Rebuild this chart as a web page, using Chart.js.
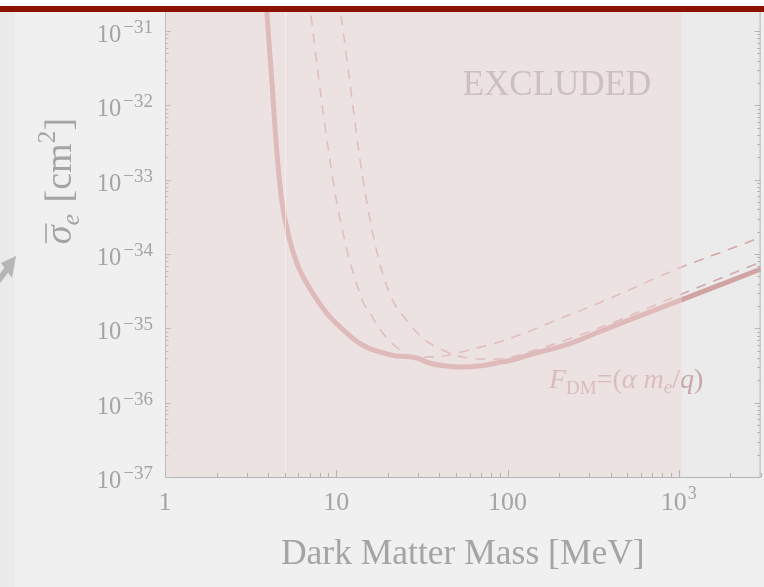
<!DOCTYPE html>
<html>
<head>
<meta charset="utf-8">
<script src="https://cdn.jsdelivr.net/npm/chart.js@4/dist/chart.umd.min.js"></script>
<style>
  html, body { margin: 0; padding: 0; background: #f0f0f0; }
  canvas { display: block; }
</style>
</head>
<body>
<canvas id="chart" width="764" height="587"></canvas>
<script>
// Electron-scattering limits: dark matter mass [MeV] vs. reference cross section [cm^2]
const combinedMass  = [3.81, 3.93, 4.20, 4.49, 4.80, 5.35, 5.95, 6.71, 8.78, 11.5, 14.2, 17.9, 22.4, 27.8, 30.6, 34.9, 43.9, 54.4, 68.3, 85.9, 106, 139, 219, 341, 532, 1025, 2917, 3570];
const combinedSigma = [4.9e-31, 1.8e-31, 2.19e-32, 2.5e-33, 5.3e-34, 1.54e-34, 7.1e-35, 4.07e-35, 1.61e-35, 8.65e-36, 5.97e-36, 4.81e-36, 4.25e-36, 4.11e-36, 3.87e-36, 3.42e-36, 3.11e-36, 3.02e-36, 3.11e-36, 3.42e-36, 3.75e-36, 4.52e-36, 5.97e-36, 8.93e-36, 1.34e-35, 2.40e-35, 6.10e-35, 7.34e-35];

const limitAMass  = [6.68, 7.08, 7.78, 8.66, 10.0, 10.45, 11.95, 13.1, 14.6, 15.6, 17.9, 22.4, 27.5, 32.7, 42.7, 59.8, 89.4, 122, 200, 341, 1040, 2917, 3570];
const limitASigma = [4.86e-31, 1.80e-31, 2.99e-32, 4.66e-33, 5.33e-34, 3.15e-34, 8.3e-35, 4.07e-35, 2.06e-35, 1.66e-35, 9.8e-36, 5.61e-36, 4.25e-36, 4.11e-36, 4.25e-36, 5.12e-36, 6.55e-36, 8.4e-36, 1.34e-35, 2.19e-35, 6.68e-35, 1.64e-34, 2.01e-34];

const limitBMass  = [10.0, 10.6, 11.96, 13.5, 15.0, 16.9, 18.6, 21.3, 25.7, 31.8, 41.6, 54.4, 73.1, 89.4, 139, 341, 1040, 2917, 3570];
const limitBSigma = [4.86e-31, 1.80e-31, 2.19e-32, 2.5e-33, 5.33e-34, 1.32e-34, 5.56e-35, 2.40e-35, 1.29e-35, 7.41e-36, 5.12e-36, 4.11e-36, 3.87e-36, 3.87e-36, 4.95e-36, 1.01e-35, 2.90e-35, 7.57e-35, 9.12e-35];

// axis ranges and tick labels
const massRange  = [1, 3000];
const sigmaRange = [1e-37, 1.803e-31];
const xTickValues = [1, 10, 100, 1000];
const xTickLabels = [['1'], ['10'], ['100'], ['10', '3']];
const yTickExponents = [-37, -36, -35, -34, -33, -32, -31];

// shaded excluded band and its faint inner edge
const excludedMaxMass = 1040;
const innerEdgeMass = 5;

const SERIF = '"Liberation Serif", "Times New Roman", serif';
const TEXT_GREY = '#a4a4a4';

function toPoints(xs, ys) { return xs.map((x, i) => ({ x: x, y: ys[i] })); }

function runsWidth(ctx, runs) {
  let w = 0;
  for (const r of runs) { ctx.font = r.f; w += ctx.measureText(r.t).width + (r.gap || 0); }
  return w;
}
function drawRuns(ctx, runs, x, y, align) {
  const w = runsWidth(ctx, runs);
  let cx = align === 'right' ? x - w : align === 'center' ? x - w / 2 : x;
  ctx.textAlign = 'left';
  ctx.textBaseline = 'alphabetic';
  for (const r of runs) {
    ctx.font = r.f;
    if (r.c) ctx.fillStyle = r.c;
    ctx.fillText(r.t, cx, y + (r.dy || 0));
    cx += ctx.measureText(r.t).width + (r.gap || 0);
  }
  return w;
}

const scene = {
  id: 'scene',
  beforeDraw(chart) {
    const { ctx, chartArea: a } = chart;
    ctx.save();
    ctx.fillStyle = '#f0f0f0';
    ctx.fillRect(0, 0, chart.width, chart.height);
    ctx.fillStyle = '#eaeaea';
    ctx.fillRect(0, 0, 15, chart.height);
    // arrow poking in from the left edge
    ctx.fillStyle = '#b6b6b6';
    ctx.beginPath();
    ctx.moveTo(16, 256); ctx.lineTo(1, 263); ctx.lineTo(12, 278);
    ctx.closePath(); ctx.fill();
    ctx.strokeStyle = '#b6b6b6'; ctx.lineWidth = 6;
    ctx.beginPath(); ctx.moveTo(8, 268); ctx.lineTo(-6, 286); ctx.stroke();
    // plot background
    ctx.fillStyle = '#ecebec';
    ctx.fillRect(a.left, a.top, a.right - a.left, a.bottom - a.top);
    ctx.restore();
  },
  afterDatasetsDraw(chart) {
    const { ctx, chartArea: a, scales: { x: xs } } = chart;
    ctx.save();
    // form factor label
    drawRuns(ctx, [
      { t: 'F', f: `italic 28px ${SERIF}`, c: '#c9a6a6' },
      { t: 'DM', f: `19px ${SERIF}`, dy: 6 },
      { t: '=(', f: `28px ${SERIF}` },
      { t: 'α', f: `italic 28px ${SERIF}` },
      { t: ' m', f: `italic 28px ${SERIF}` },
      { t: 'e', f: `italic 19px ${SERIF}`, dy: 5 },
      { t: '/', f: `28px ${SERIF}` },
      { t: 'q', f: `italic 28px ${SERIF}` },
      { t: ')', f: `28px ${SERIF}` }
    ], 549, 388, 'left');
    // translucent excluded band
    const xe = xs.getPixelForValue(excludedMaxMass);
    ctx.fillStyle = 'rgba(240, 215, 215, 0.45)';
    ctx.fillRect(a.left, a.top, xe - a.left, a.bottom - a.top);
    const x5 = Math.round(xs.getPixelForValue(innerEdgeMass)) + 0.5;
    ctx.strokeStyle = 'rgba(255, 245, 245, 0.55)';
    ctx.lineWidth = 1;
    ctx.beginPath(); ctx.moveTo(x5, a.top); ctx.lineTo(x5, a.bottom); ctx.stroke();
    // EXCLUDED
    ctx.fillStyle = '#cbbfbf';
    ctx.font = `35px ${SERIF}`;
    ctx.textAlign = 'center';
    ctx.textBaseline = 'alphabetic';
    ctx.fillText('EXCLUDED', 557, 95);
    ctx.restore();
  },
  afterDraw(chart) {
    const { ctx, chartArea: a, scales: { x: xs, y: ys } } = chart;
    ctx.save();
    // frame
    ctx.lineWidth = 1;
    ctx.strokeStyle = '#c6baba';
    ctx.beginPath(); ctx.moveTo(a.left + 0.5, a.top - 20); ctx.lineTo(a.left + 0.5, a.bottom); ctx.stroke();
    ctx.strokeStyle = '#b4b4b4';
    ctx.beginPath(); ctx.moveTo(a.left, a.bottom + 0.5); ctx.lineTo(a.right, a.bottom + 0.5); ctx.stroke();
    ctx.beginPath(); ctx.moveTo(a.right - 0.5, a.top - 20); ctx.lineTo(a.right - 0.5, a.bottom); ctx.stroke();

    // y ticks (log decades with minor ticks), both sides, pointing inward
    for (let e = -38; e <= -31; e++) {
      for (let k = 1; k <= 9; k++) {
        const v = k * Math.pow(10, e);
        if (v < sigmaRange[0] * 0.999 || v > sigmaRange[1]) continue;
        const py = Math.round(ys.getPixelForValue(v)) + 0.5;
        const len = k === 1 ? 6 : 3.5;
        ctx.strokeStyle = '#c6baba';
        ctx.beginPath(); ctx.moveTo(a.left, py); ctx.lineTo(a.left + len, py); ctx.stroke();
        ctx.strokeStyle = '#b4b4b4';
        ctx.beginPath(); ctx.moveTo(a.right, py); ctx.lineTo(a.right - len, py); ctx.stroke();
      }
    }
    // x ticks
    ctx.strokeStyle = '#b4b4b4';
    for (let e = 0; e <= 3; e++) {
      for (let k = 1; k <= 9; k++) {
        const v = k * Math.pow(10, e);
        if (v > massRange[1]) continue;
        const px = Math.round(xs.getPixelForValue(v)) + 0.5;
        const len = k === 1 ? 7 : 4;
        ctx.beginPath(); ctx.moveTo(px, a.bottom); ctx.lineTo(px, a.bottom - len); ctx.stroke();
      }
    }

    ctx.fillStyle = TEXT_GREY;
    // y tick labels 10^n
    for (const e of yTickExponents) {
      const py = ys.getPixelForValue(Math.pow(10, e));
      drawRuns(ctx, [
        { t: '10', f: `24.5px ${SERIF}`, gap: 2 },
        { t: '−' + Math.abs(e), f: `19px ${SERIF}`, dy: -9 }
      ], 153, py + 11, 'right');
    }
    // x tick labels
    xTickValues.forEach((v, i) => {
      const px = xs.getPixelForValue(v);
      const parts = xTickLabels[i];
      const runs = [{ t: parts[0], f: `26px ${SERIF}`, gap: parts[1] ? 1 : 0 }];
      if (parts[1]) runs.push({ t: parts[1], f: `18px ${SERIF}`, dy: -11 });
      drawRuns(ctx, runs, px, 510, 'center');
    });

    // x title
    ctx.font = `35.5px ${SERIF}`;
    ctx.textAlign = 'center';
    ctx.fillText('Dark Matter Mass [MeV]', (a.left + a.right) / 2, 564);

    // y title, rotated
    ctx.save();
    ctx.translate(71, 181);
    ctx.rotate(-Math.PI / 2);
    const yRuns = [
      { t: 'σ', f: `italic 38px ${SERIF}` },
      { t: 'e', f: `italic 26px ${SERIF}`, dy: 8, gap: 2 },
      { t: ' [cm', f: `38px ${SERIF}` },
      { t: '2', f: `26px ${SERIF}`, dy: -16 },
      { t: ']', f: `38px ${SERIF}` }
    ];
    const w = runsWidth(ctx, yRuns);
    drawRuns(ctx, yRuns, 0, 0, 'center');
    ctx.font = `italic 38px ${SERIF}`;
    const sw = ctx.measureText('σ').width;
    ctx.strokeStyle = TEXT_GREY; ctx.lineWidth = 1.6;
    ctx.beginPath(); ctx.moveTo(-w / 2 + 1, -25); ctx.lineTo(-w / 2 + sw + 2, -25); ctx.stroke();
    ctx.restore();

    // slide header strip
    ctx.fillStyle = '#ffffff';
    ctx.fillRect(0, 0, chart.width, 6);
    ctx.fillStyle = '#8b1200';
    ctx.fillRect(0, 6, chart.width, 6);
    ctx.restore();
  }
};

new Chart(document.getElementById('chart'), {
  type: 'line',
  data: {
    datasets: [
      {
        label: 'combined',
        data: toPoints(combinedMass, combinedSigma),
        borderColor: '#d2a3a3', borderWidth: 5,
        pointRadius: 0, fill: false,
        cubicInterpolationMode: 'monotone',
        borderCapStyle: 'round', borderJoinStyle: 'round',
        order: 2
      },
      {
        label: 'limit A',
        data: toPoints(limitAMass, limitASigma),
        borderColor: '#d4a9a9', borderWidth: 1.6, borderDash: [10, 8],
        pointRadius: 0, fill: false,
        cubicInterpolationMode: 'monotone',
        order: 1
      },
      {
        label: 'limit B',
        data: toPoints(limitBMass, limitBSigma),
        borderColor: '#d4a9a9', borderWidth: 1.6, borderDash: [10, 8],
        pointRadius: 0, fill: false,
        cubicInterpolationMode: 'monotone',
        order: 1
      }
    ]
  },
  options: {
    responsive: false,
    animation: false,
    devicePixelRatio: 1,
    layout: { padding: { left: 165, top: 12, right: 3.4, bottom: 110 } },
    plugins: { legend: { display: false }, tooltip: { enabled: false } },
    scales: {
      x: { type: 'logarithmic', min: massRange[0], max: massRange[1], display: false },
      y: { type: 'logarithmic', min: sigmaRange[0], max: sigmaRange[1], display: false }
    }
  },
  plugins: [scene]
});
</script>
</body>
</html>
